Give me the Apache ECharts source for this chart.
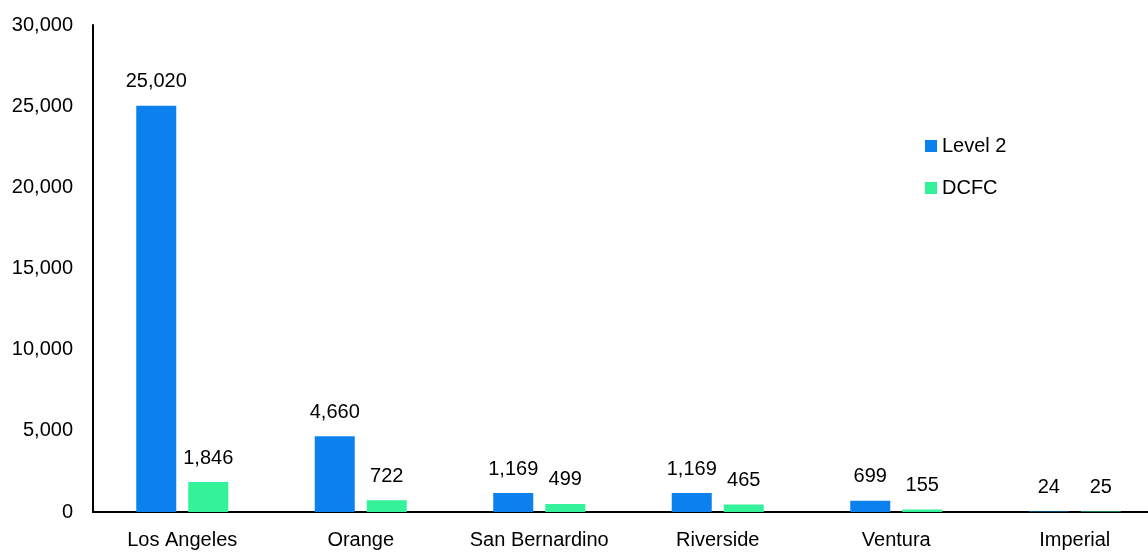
<!DOCTYPE html>
<html>
<head>
<meta charset="utf-8">
<script src="https://cdn.jsdelivr.net/npm/echarts@6/dist/echarts.min.js"></script>
<style>
  html, body { margin: 0; padding: 0; background: #fff; overflow: hidden; }
  /* the plot runs a little past the right edge of the picture */
  #chart { width: 1164px; height: 552px; }
</style>
</head>
<body>
<div id="chart"></div>
<script>
const counties = ["Los Angeles", "Orange", "San Bernardino", "Riverside", "Ventura", "Imperial"]
const level2 = [25020, 4660, 1169, 1169, 699, 24]
const dcfc = [1846, 722, 499, 465, 155, 25]

const font = "'Liberation Sans', Arial, sans-serif"
const fmt = v => v.toLocaleString("en-US")

let myChart = echarts.init(document.getElementById("chart"))
myChart.setOption({
  textStyle: { fontFamily: font, color: "#000" },
  animation: false,
  grid: { left: 93, right: 0, top: 25, bottom: 40, containLabel: false },
  legend: {
    orient: "vertical",
    left: 920,
    top: 131,
    itemWidth: 12,
    itemHeight: 12,
    itemGap: 22,
    icon: "rect",
    textStyle: { fontFamily: font, fontSize: 20, color: "#000" },
    data: ["Level 2", "DCFC"],
  },
  xAxis: {
    type: "category",
    data: counties,
    axisLine: { lineStyle: { color: "#000", width: 2 } },
    axisTick: { show: false },
    axisLabel: { fontFamily: font, fontSize: 20, color: "#000", margin: 18, interval: 0 },
  },
  yAxis: {
    type: "value",
    min: 0,
    max: 30000,
    interval: 5000,
    splitLine: { show: false },
    axisLine: { show: true, lineStyle: { color: "#000", width: 2 } },
    axisTick: { show: false },
    axisLabel: {
      fontFamily: font, fontSize: 20, color: "#000", margin: 20,
      formatter: v => fmt(v),
    },
  },
  series: [
    {
      name: "Level 2",
      type: "bar",
      data: level2,
      barWidth: 40,
      barGap: "30%",
      itemStyle: { color: "#0b80ef" },
      label: {
        show: true, position: "top", distance: 14,
        fontFamily: font, fontSize: 20, color: "#000",
        formatter: p => fmt(p.value),
      },
    },
    {
      name: "DCFC",
      type: "bar",
      data: dcfc,
      barWidth: 40,
      itemStyle: { color: "#33f29a" },
      label: {
        show: true, position: "top", distance: 14,
        fontFamily: font, fontSize: 20, color: "#000",
        formatter: p => fmt(p.value),
      },
    },
  ],
})
</script>
</body>
</html>
